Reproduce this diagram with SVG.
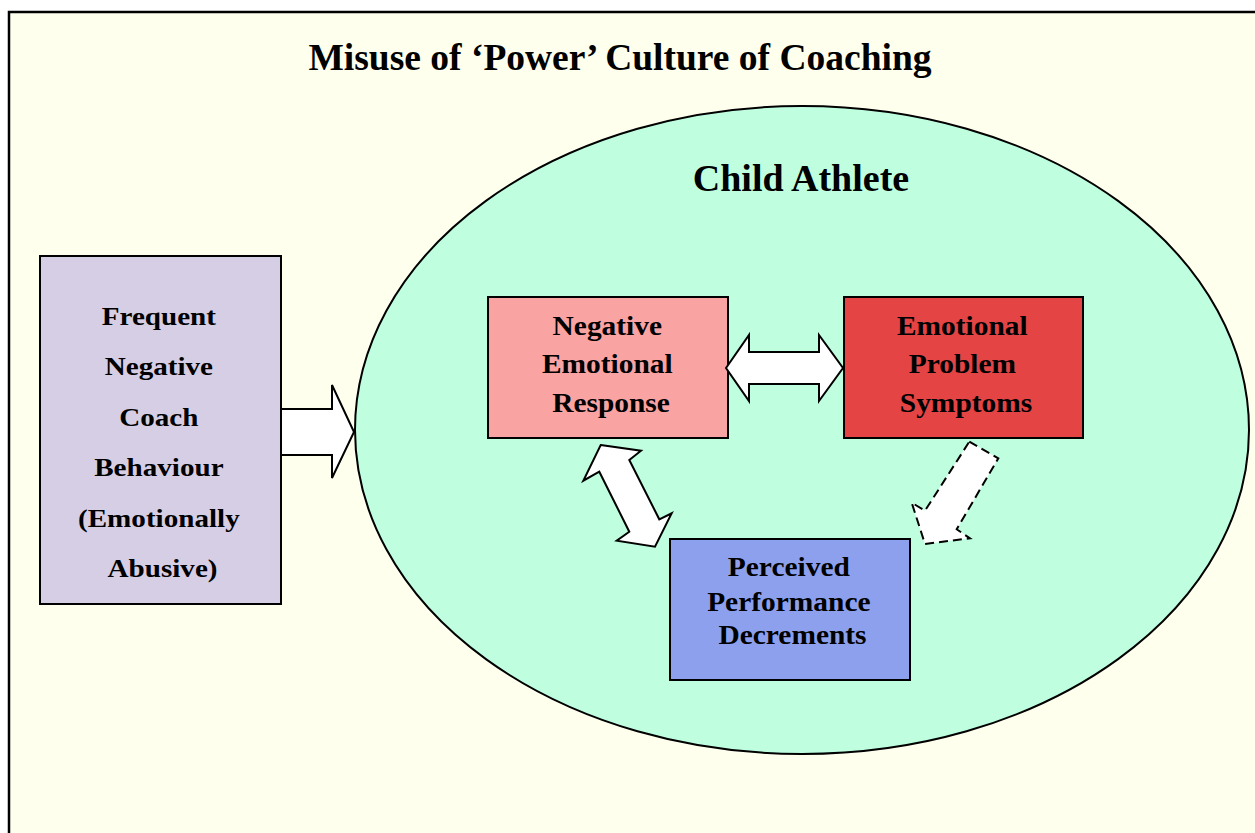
<svg xmlns="http://www.w3.org/2000/svg" width="1255" height="833" viewBox="0 0 1255 833">
  <style>
    .t { font-family: "Liberation Serif", "Times New Roman", serif; font-weight: bold; fill: #000; text-anchor: middle; }
    .box { stroke: #000; stroke-width: 2; }
    .arrow { fill: #fff; stroke: #000; stroke-width: 2; stroke-linejoin: miter; }
  </style>
  <rect width="1255" height="833" fill="#fff"/>
  <!-- outer frame, running off the right and bottom edges -->
  <rect id="frame" x="9" y="12" width="1260" height="840" fill="#FFFFEE" stroke="#000" stroke-width="2.5"/>
  <text class="t" x="620" y="70" font-size="37.5">Misuse of ‘Power’ Culture of Coaching</text>

  <!-- child athlete ellipse -->
  <g id="child-athlete">
    <ellipse cx="802" cy="430" rx="447" ry="324" fill="#BFFFE0" stroke="#000" stroke-width="2"/>
    <text class="t" x="801" y="191" font-size="38">Child Athlete</text>
  </g>

  <g id="coach-behaviour">
    <rect class="box" x="40" y="256" width="241" height="348" fill="#D6CEE4"/>
    <g transform="translate(162.5,0) scale(1.12,1)">
      <text class="t" font-size="26">
        <tspan x="0" y="325">Frequent</tspan>
        <tspan x="0" y="375.5">Negative</tspan>
        <tspan x="0" y="426">Coach</tspan>
        <tspan x="0" y="476.5">Behaviour</tspan>
        <tspan x="0" y="527">(Emotionally</tspan>
        <tspan x="0" y="577.5">Abusive)</tspan>
      </text>
    </g>
  </g>

  <g id="negative-emotional-response">
    <rect class="box" x="488" y="297" width="240" height="141" fill="#F9A3A3"/>
    <g transform="translate(611,0) scale(1.09,1)">
      <text class="t" font-size="27">
        <tspan x="0" y="335">Negative</tspan>
        <tspan x="0" y="373.5">Emotional</tspan>
        <tspan x="0" y="412">Response</tspan>
      </text>
    </g>
  </g>

  <g id="emotional-problem-symptoms">
    <rect class="box" x="844" y="297" width="239" height="141" fill="#E44444"/>
    <g transform="translate(966,0) scale(1.09,1)">
      <text class="t" font-size="27">
        <tspan x="0" y="335">Emotional</tspan>
        <tspan x="0" y="373.5">Problem</tspan>
        <tspan x="0" y="412">Symptoms</tspan>
      </text>
    </g>
  </g>

  <g id="perceived-performance-decrements">
    <rect class="box" x="670" y="539" width="240" height="141" fill="#8DA0EE"/>
    <g transform="translate(792.5,0) scale(1.09,1)">
      <text class="t" font-size="27">
        <tspan x="0" y="576">Perceived</tspan>
        <tspan x="0" y="611">Performance</tspan>
        <tspan x="0" y="644">Decrements</tspan>
      </text>
    </g>
  </g>

  <!-- connectors: block arrows -->
  <g id="connectors">
    <polygon class="arrow" points="281,409 332,409 332,385 354,432 332,478 332,455 281,455"/>
    <polygon class="arrow" points="726,368 749,335 749,352 819,352 819,335 843,368 819,401 819,384 749,384 749,401"/>
    <polygon class="arrow" points="600.7,445 641,450.7 629.3,460 659.3,519.3 671.7,513.3 655,546.7 616.7,540.7 629.3,531.7 599.3,471.7 583.3,480.7"/>
    <polygon class="arrow" stroke-dasharray="9,5" points="969.3,441.7 998.3,458.3 956.7,529.3 970,538.3 925,544 911.7,502.7 925,510.7"/>
  </g>
</svg>
